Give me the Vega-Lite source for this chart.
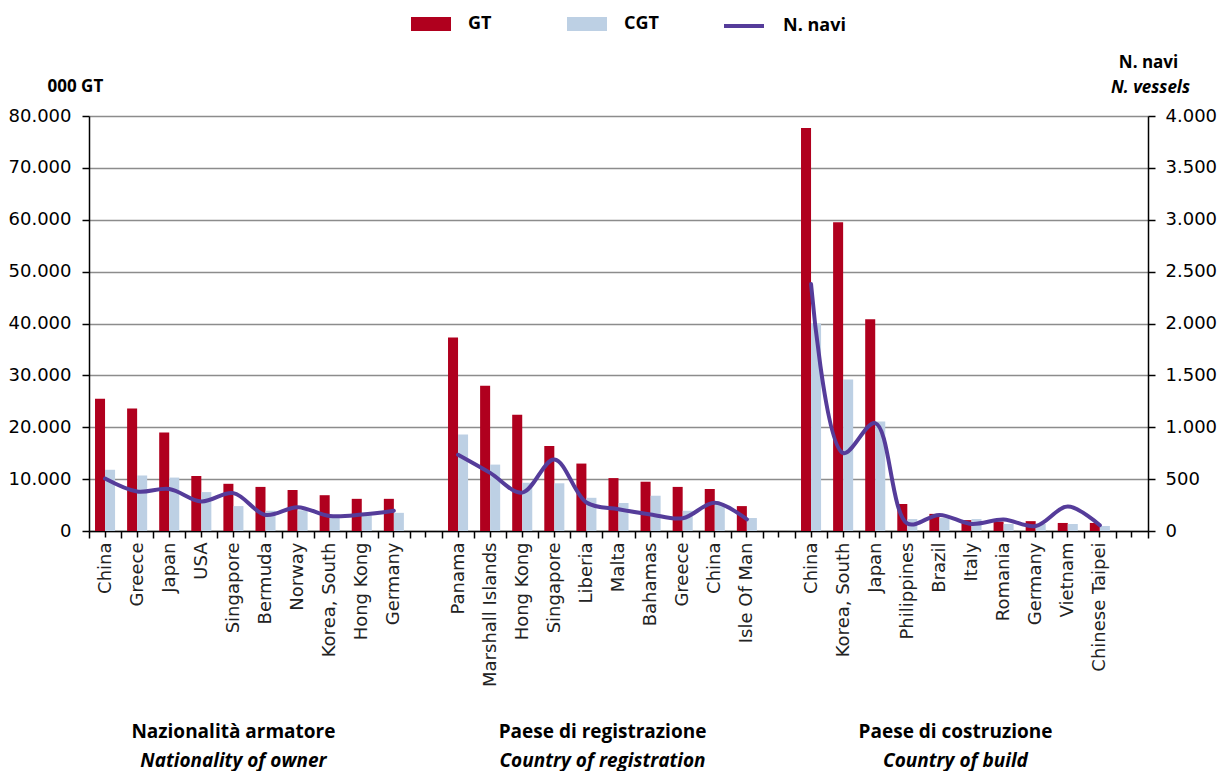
{
  "$schema": "https://vega.github.io/schema/vega-lite/v6.json",
  "width": 1059,
  "height": 415,
  "autosize": "none",
  "padding": {"left": 89, "top": 116, "right": 77, "bottom": 240},
  "config": {
    "view": {"stroke": null},
    "font": "Open Sans",
    "locale": {"number": {"decimal": ",", "thousands": ".", "grouping": [3], "currency": ["", "€"]}}
  },
  "data": {
    "values": [
      {"k": "1|China", "g": "1", "GT": 25500, "CGT": 11800, "N": 505},
      {"k": "1|Greece", "g": "1", "GT": 23600, "CGT": 10700, "N": 380},
      {"k": "1|Japan", "g": "1", "GT": 19000, "CGT": 10300, "N": 405},
      {"k": "1|USA", "g": "1", "GT": 10600, "CGT": 7500, "N": 285},
      {"k": "1|Singapore", "g": "1", "GT": 9100, "CGT": 4800, "N": 365},
      {"k": "1|Bermuda", "g": "1", "GT": 8500, "CGT": 3900, "N": 155},
      {"k": "1|Norway", "g": "1", "GT": 7900, "CGT": 4000, "N": 230},
      {"k": "1|Korea, South", "g": "1", "GT": 6900, "CGT": 3100, "N": 145},
      {"k": "1|Hong Kong", "g": "1", "GT": 6200, "CGT": 3000, "N": 158},
      {"k": "1|Germany", "g": "1", "GT": 6200, "CGT": 3500, "N": 196},
      {"k": "2|Panama", "g": "2", "GT": 37300, "CGT": 18600, "N": 735},
      {"k": "2|Marshall Islands", "g": "2", "GT": 28000, "CGT": 12800, "N": 560},
      {"k": "2|Hong Kong", "g": "2", "GT": 22400, "CGT": 9300, "N": 370},
      {"k": "2|Singapore", "g": "2", "GT": 16400, "CGT": 9200, "N": 690},
      {"k": "2|Liberia", "g": "2", "GT": 13000, "CGT": 6400, "N": 275},
      {"k": "2|Malta", "g": "2", "GT": 10200, "CGT": 5400, "N": 210},
      {"k": "2|Bahamas", "g": "2", "GT": 9500, "CGT": 6800, "N": 160},
      {"k": "2|Greece", "g": "2", "GT": 8500, "CGT": 3900, "N": 123},
      {"k": "2|China", "g": "2", "GT": 8100, "CGT": 5000, "N": 272},
      {"k": "2|Isle Of Man", "g": "2", "GT": 4800, "CGT": 2500, "N": 113},
      {"k": "3|China", "g": "3", "GT": 77700, "CGT": 40000, "N": 2380},
      {"k": "3|Korea, South", "g": "3", "GT": 59500, "CGT": 29200, "N": 752},
      {"k": "3|Japan", "g": "3", "GT": 40800, "CGT": 21100, "N": 1040},
      {"k": "3|Philippines", "g": "3", "GT": 5200, "CGT": 2300, "N": 72},
      {"k": "3|Brazil", "g": "3", "GT": 3300, "CGT": 2500, "N": 155},
      {"k": "3|Italy", "g": "3", "GT": 2100, "CGT": 2300, "N": 68},
      {"k": "3|Romania", "g": "3", "GT": 1800, "CGT": 1350, "N": 110},
      {"k": "3|Germany", "g": "3", "GT": 1900, "CGT": 1350, "N": 48},
      {"k": "3|Vietnam", "g": "3", "GT": 1550, "CGT": 1350, "N": 235},
      {"k": "3|Chinese Taipei", "g": "3", "GT": 1550, "CGT": 970, "N": 55}
    ]
  },
  "layer": [
    {
      "transform": [{"fold": ["GT", "CGT"], "as": ["measure", "value"]}],
      "mark": {"type": "bar"},
      "encoding": {
        "x": {
          "field": "k", "type": "nominal", "sort": null,
          "scale": {
            "type": "band", "paddingInner": 0, "paddingOuter": 0,
            "domain": ["1|China","1|Greece","1|Japan","1|USA","1|Singapore","1|Bermuda","1|Norway","1|Korea, South","1|Hong Kong","1|Germany","g1|","2|Panama","2|Marshall Islands","2|Hong Kong","2|Singapore","2|Liberia","2|Malta","2|Bahamas","2|Greece","2|China","2|Isle Of Man","g2|","3|China","3|Korea, South","3|Japan","3|Philippines","3|Brazil","3|Italy","3|Romania","3|Germany","3|Vietnam","3|Chinese Taipei","g3|"]
          },
          "axis": {
            "orient": "bottom", "title": null, "grid": false,
            "labelExpr": "split(datum.value, '|')[1]",
            "labelAngle": -90, "labelAlign": "right", "labelBaseline": "middle",
            "labelFont": "DejaVu Sans", "labelFontSize": 18, "labelColor": "#222",
            "labelPadding": 4, "labelLimit": 300, "labelOverlap": false,
            "tickBand": "extent", "tickSize": 7, "tickColor": "#000", "tickWidth": 1.5,
            "domainColor": "#000", "domainWidth": 1.5
          }
        },
        "xOffset": {
          "field": "measure", "type": "nominal",
          "scale": {"domain": ["GT", "CGT"], "paddingInner": 0, "paddingOuter": 0.6}
        },
        "y": {
          "field": "value", "type": "quantitative",
          "scale": {"domain": [0, 80000]},
          "axis": {
            "orient": "left", "values": [0, 10000, 20000, 30000, 40000, 50000, 60000, 70000, 80000],
            "format": ",d", "labelFont": "DejaVu Sans", "labelFontSize": 18, "labelColor": "#000",
            "labelPadding": 11, "tickSize": 7, "tickColor": "#000", "tickWidth": 1.5,
            "domainColor": "#000", "domainWidth": 1.5,
            "grid": true, "gridColor": "#8c8c8c", "gridWidth": 1.5,
            "title": "000 GT", "titleAngle": 0, "titleAlign": "left", "titleBaseline": "alphabetic",
            "titleX": -42, "titleY": -25, "titleFont": "Open Sans", "titleFontSize": 17,
            "titleFontWeight": "bold", "titleColor": "#000"
          }
        },
        "fill": {
          "field": "measure", "type": "nominal",
          "scale": {"domain": ["GT", "CGT"], "range": ["#b0001e", "#bdd0e4"]},
          "legend": {
            "orient": "none", "legendX": 322, "legendY": -112, "direction": "horizontal",
            "title": null, "symbolType": "M-1,-0.35H1V0.35H-1Z", "symbolSize": 1600,
            "symbolStrokeWidth": 0, "labelFont": "Open Sans", "labelFontSize": 18,
            "labelFontWeight": "bold", "labelColor": "#000", "labelOffset": 17,
            "columnPadding": 75, "padding": 0
          }
        }
      }
    },
    {
      "mark": {"type": "line", "interpolate": "catmull-rom", "strokeWidth": 4, "strokeCap": "round"},
      "encoding": {
        "x": {
          "field": "k", "type": "nominal", "sort": null,
          "scale": {
            "type": "point", "padding": 0.5,
            "domain": ["1|China","1|Greece","1|Japan","1|USA","1|Singapore","1|Bermuda","1|Norway","1|Korea, South","1|Hong Kong","1|Germany","g1|","2|Panama","2|Marshall Islands","2|Hong Kong","2|Singapore","2|Liberia","2|Malta","2|Bahamas","2|Greece","2|China","2|Isle Of Man","g2|","3|China","3|Korea, South","3|Japan","3|Philippines","3|Brazil","3|Italy","3|Romania","3|Germany","3|Vietnam","3|Chinese Taipei","g3|"]
          },
          "axis": null
        },
        "y": {
          "field": "N", "type": "quantitative",
          "scale": {"domain": [0, 4000]},
          "axis": {
            "orient": "right", "values": [0, 500, 1000, 1500, 2000, 2500, 3000, 3500, 4000],
            "format": ",d", "labelFont": "DejaVu Sans", "labelFontSize": 18, "labelColor": "#000",
            "labelPadding": 10, "tickSize": 7, "tickColor": "#000", "tickWidth": 1.5,
            "domainColor": "#000", "domainWidth": 1.5, "grid": false,
            "title": "N. navi", "titleAngle": 0, "titleAlign": "center", "titleBaseline": "alphabetic",
            "titleX": 0, "titleY": -49, "titleFont": "Open Sans", "titleFontSize": 17,
            "titleFontWeight": "bold", "titleColor": "#000"
          }
        },
        "detail": {"field": "g", "type": "nominal"},
        "stroke": {
          "datum": "N. navi",
          "scale": {"domain": ["N. navi"], "range": ["#553c9a"]},
          "legend": {
            "orient": "none", "legendX": 633, "legendY": -112, "title": null,
            "symbolType": "M-1,0H1", "symbolSize": 1600, "symbolStrokeWidth": 4,
            "labelFont": "Open Sans", "labelFontSize": 18, "labelFontWeight": "bold",
            "labelColor": "#000", "labelOffset": 17, "padding": 0
          }
        }
      }
    },
    {
      "mark": {"type": "text", "text": "", "opacity": 0},
      "encoding": {
        "x": {
          "field": "k", "type": "nominal", "sort": null,
          "scale": {
            "type": "band", "paddingInner": 0, "paddingOuter": 0,
            "domain": ["1|China","1|Greece","1|Japan","1|USA","1|Singapore","1|Bermuda","1|Norway","1|Korea, South","1|Hong Kong","1|Germany","g1|","2|Panama","2|Marshall Islands","2|Hong Kong","2|Singapore","2|Liberia","2|Malta","2|Bahamas","2|Greece","2|China","2|Isle Of Man","g2|","3|China","3|Korea, South","3|Japan","3|Philippines","3|Brazil","3|Italy","3|Romania","3|Germany","3|Vietnam","3|Chinese Taipei","g3|"]
          },
          "axis": {
            "orient": "bottom", "values": ["1|Singapore", "2|Malta", "3|Italy"],
            "labelExpr": "datum.value === '1|Singapore' ? 'Nazionalità armatore' : datum.value === '2|Malta' ? 'Paese di registrazione' : 'Paese di costruzione'",
            "labelAngle": 0, "labelAlign": "center", "labelBaseline": "middle",
            "labelFont": "Open Sans", "labelFontSize": 19, "labelFontWeight": "bold", "labelColor": "#000",
            "labelLimit": 400, "labelOverlap": false, "labelPadding": 0,
            "labelOffset": {"condition": {"test": "datum.value === '1|Singapore'", "value": 0}, "value": -16},
            "ticks": false, "domain": false, "grid": false, "title": null, "offset": 200
          }
        }
      }
    },
    {
      "mark": {"type": "text", "text": "", "opacity": 0},
      "encoding": {
        "x": {
          "field": "k", "type": "nominal", "sort": null,
          "scale": {
            "type": "band", "paddingInner": 0, "paddingOuter": 0,
            "domain": ["1|China","1|Greece","1|Japan","1|USA","1|Singapore","1|Bermuda","1|Norway","1|Korea, South","1|Hong Kong","1|Germany","g1|","2|Panama","2|Marshall Islands","2|Hong Kong","2|Singapore","2|Liberia","2|Malta","2|Bahamas","2|Greece","2|China","2|Isle Of Man","g2|","3|China","3|Korea, South","3|Japan","3|Philippines","3|Brazil","3|Italy","3|Romania","3|Germany","3|Vietnam","3|Chinese Taipei","g3|"]
          },
          "axis": {
            "orient": "bottom", "values": ["1|Singapore", "2|Malta", "3|Italy"],
            "labelExpr": "datum.value === '1|Singapore' ? 'Nationality of owner' : datum.value === '2|Malta' ? 'Country of registration' : 'Country of build'",
            "labelAngle": 0, "labelAlign": "center", "labelBaseline": "middle",
            "labelFont": "Open Sans", "labelFontSize": 19, "labelFontWeight": "bold", "labelFontStyle": "italic",
            "labelColor": "#000", "labelLimit": 400, "labelOverlap": false, "labelPadding": 0,
            "labelOffset": {"condition": {"test": "datum.value === '1|Singapore'", "value": 0}, "value": -16},
            "ticks": false, "domain": false, "grid": false, "title": null, "offset": 229
          }
        },
        "y": {
          "datum": 0, "type": "quantitative",
          "scale": {"domain": [0, 4000]},
          "axis": {
            "orient": "right", "labels": false, "ticks": false, "domain": false, "grid": false,
            "title": "N. vessels", "titleAngle": 0, "titleAlign": "center", "titleBaseline": "alphabetic",
            "titleX": 2, "titleY": -24, "titleFont": "Open Sans", "titleFontSize": 17,
            "titleFontWeight": "bold", "titleFontStyle": "italic", "titleColor": "#000"
          }
        }
      }
    },
    {
      "mark": {"type": "text", "text": "", "opacity": 0},
      "encoding": {
        "x": {
          "field": "k", "type": "nominal", "sort": null,
          "scale": {
            "type": "band", "paddingInner": 0, "paddingOuter": 0,
            "domain": ["1|China","1|Greece","1|Japan","1|USA","1|Singapore","1|Bermuda","1|Norway","1|Korea, South","1|Hong Kong","1|Germany","g1|","2|Panama","2|Marshall Islands","2|Hong Kong","2|Singapore","2|Liberia","2|Malta","2|Bahamas","2|Greece","2|China","2|Isle Of Man","g2|","3|China","3|Korea, South","3|Japan","3|Philippines","3|Brazil","3|Italy","3|Romania","3|Germany","3|Vietnam","3|Chinese Taipei","g3|"]
          },
          "axis": {
            "orient": "bottom", "labels": false, "domain": false, "grid": false, "title": null,
            "ticks": true, "tickSize": 6, "tickColor": "#000", "tickWidth": 1.5
          }
        }
      }
    }
  ],
  "resolve": {
    "scale": {"x": "independent", "y": "independent", "fill": "independent", "stroke": "independent"},
    "axis": {"x": "independent", "y": "independent"}
  }
}
